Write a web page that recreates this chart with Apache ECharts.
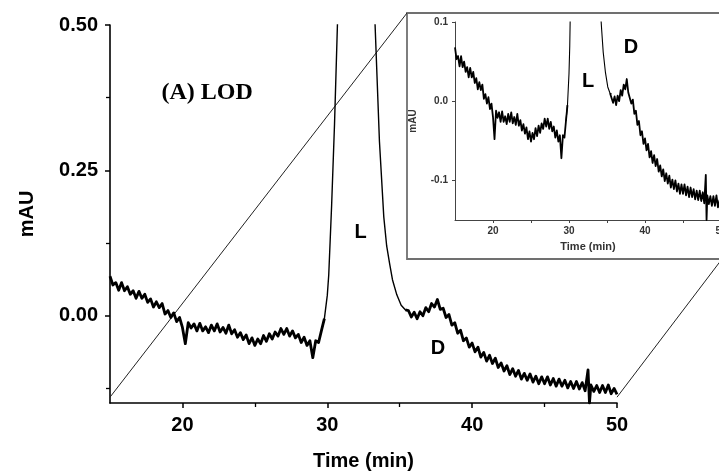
<!DOCTYPE html>
<html><head><meta charset="utf-8">
<script src="https://cdn.jsdelivr.net/npm/echarts@6/dist/echarts.min.js"></script>
<style>html,body{margin:0;padding:0;background:#fff}#c{width:719px;height:474px}</style>
</head><body><div id="c"></div>
<script>
// ---- data (time in min, absorbance in mAU) ----
const timesBefore = [15.0,15.2,15.4,15.6,15.8,16.0,16.2,16.4,16.6,16.8,17.0,17.2,17.4,17.6,17.8,18.0,18.2,18.4,18.6,18.8,19.0,19.2,19.4,19.6,19.8,20.0,20.2,20.4,20.6,20.8,21.0,21.2,21.4,21.6,21.8,22.0,22.2,22.4,22.6,22.8,23.0,23.2,23.4,23.6,23.8,24.0,24.2,24.4,24.6,24.8,25.0,25.2,25.4,25.6,25.8,26.0,26.2,26.4,26.6,26.8,27.0,27.2,27.4,27.6,27.8,28.0,28.2,28.4,28.6,28.8,29.0,29.2,29.4,29.6];
const signalBefore = [0.068,0.053,0.057,0.044,0.057,0.043,0.050,0.037,0.043,0.030,
  0.042,0.030,0.037,0.023,0.029,0.015,0.024,0.014,0.021,0.003,
  0.009,-0.003,0.005,-0.010,-0.003,-0.020,-0.048,-0.012,-0.021,-0.014,
  -0.026,-0.013,-0.026,-0.019,-0.029,-0.016,-0.026,-0.014,-0.028,-0.020,
  -0.030,-0.016,-0.031,-0.024,-0.037,-0.029,-0.041,-0.033,-0.048,-0.038,
  -0.051,-0.040,-0.048,-0.034,-0.044,-0.031,-0.040,-0.028,-0.035,-0.022,
  -0.032,-0.022,-0.035,-0.026,-0.038,-0.032,-0.046,-0.037,-0.051,-0.043,
  -0.072,-0.043,-0.046,-0.025];
const timesPeak = [29.8,30.0,30.1,30.2,30.3,30.5,30.7,31.0,31.5,32.0,32.5,33.0,33.3,33.6,33.9,34.1,34.3,34.5,34.8,35.1,35.4];
const signalPeak = [-0.005,0.035,0.07,0.13,0.19,0.33,0.5,0.75,1.1,1.3,1.2,0.8,0.5,0.3,0.17,0.12,0.09,0.062,0.036,0.018,0.010];
const timesAfter = [35.6,35.8,36.0,36.2,36.4,36.6,36.8,37.0,37.2,37.4,37.6,37.8,38.0,38.2,38.4,38.6,38.8,39.0,39.2,39.4,39.6,39.8,40.0,40.2,40.4,40.6,40.8,41.0,41.2,41.4,41.6,41.8,42.0,42.2,42.4,42.6,42.8,43.0,43.2,43.4,43.6,43.8,44.0,44.2,44.4,44.6,44.8,45.0,45.2,45.4,45.6,45.8,46.0,46.2,46.4,46.6,46.8,47.0,47.2,47.4,47.6,47.8,48.0,48.1,48.2,48.4,48.6,48.8,49.0,49.2,49.4,49.6,49.8,50.0];
const signalAfter = [0.009,-0.002,0.006,-0.005,0.007,0.000,0.014,0.007,0.021,0.015,
  0.028,0.011,0.013,-0.003,0.002,-0.016,-0.012,-0.030,-0.025,-0.043,
  -0.038,-0.054,-0.047,-0.062,-0.054,-0.071,-0.063,-0.078,-0.068,-0.082,
  -0.073,-0.089,-0.081,-0.095,-0.086,-0.101,-0.091,-0.104,-0.094,-0.109,
  -0.099,-0.111,-0.100,-0.114,-0.104,-0.117,-0.105,-0.117,-0.105,-0.119,
  -0.108,-0.121,-0.109,-0.121,-0.111,-0.124,-0.113,-0.125,-0.113,-0.126,
  -0.115,-0.129,
  -0.093,-0.150,-0.119,-0.130,-0.120,-0.132,-0.120,-0.132,-0.119,-0.134,-0.125,-0.135];

// tick labels
const xTicks = [20,30,40,50];
const xMinorTicks = [25,35,45];
const yTicksMain = [0, 0.25, 0.5];
const yMinorMain = [-0.125, 0.125, 0.375];
const yTicksInset = [-0.1, 0, 0.1];

// annotations
const mainNotes = [
  {text:'(A) LOD', at:[21.7, 0.384], font:'bold 24px "Liberation Serif", serif'},
  {text:'L', at:[32.3, 0.143]},
  {text:'D', at:[37.64, -0.056]}
];
const insetNotes = [
  {text:'L', at:[32.5, 0.025]},
  {text:'D', at:[38.16, 0.068]}
];

const pairs = (ts, vs) => ts.map((t,i)=>[t, vs[i]]);
const dBefore = pairs(timesBefore, signalBefore);
const dPeak = pairs(timesPeak, signalPeak);
const dAfter = pairs(timesAfter, signalAfter);
// segments joined at their shared end points
const segNoise1 = dBefore.concat([dPeak[0]]);
const segPeak = [dBefore[dBefore.length-1]].concat(dPeak, [dAfter[0]]);
const segNoise2 = [dPeak[dPeak.length-1]].concat(dAfter);

const SANS = '"Liberation Sans", Arial, sans-serif';
const chart = echarts.init(document.getElementById('c'), null, {renderer:'canvas'});

function xAx(grid, main) {
  return {
    type:'value', gridIndex:grid, min:15, max:50, position:'bottom',
    splitLine:{show:false},
    axisLine:{show:true, onZero:false, lineStyle:{color: main?'#000':'#444', width: main?1.6:1}},
    axisTick:{show:true, customValues:xTicks, length: main?5:3, lineStyle:{color: main?'#000':'#444', width: main?1.5:1}},
    axisLabel:{customValues:xTicks, color: main?'#000':'#333', fontFamily:SANS, fontWeight:'bold', fontSize: main?20:10, margin: main?12:6},
    name:'Time (min)', nameLocation:'middle', nameGap: main?48:21,
    nameTextStyle:{color: main?'#000':'#333', fontFamily:SANS, fontWeight:'bold', fontSize: main?20:11}
  };
}
function xMinor(grid, main) {
  return {
    type:'value', gridIndex:grid, min:15, max:50, position:'bottom',
    splitLine:{show:false}, axisLine:{show:false, onZero:false}, axisLabel:{show:false},
    axisTick:{show:true, customValues:xMinorTicks, length: main?4:3, lineStyle:{color: main?'#000':'#444', width: main?1.3:1}}
  };
}
function seg(data, xi, yi, w) {
  return {type:'line', xAxisIndex:xi, yAxisIndex:yi, data:data, showSymbol:false, symbol:'none',
    clip:true, lineStyle:{color:'#000', width:w, join:'round'}, z:3};
}

const option = {
  animation:false,
  backgroundColor:'#fff',
  grid:[
    {left:110, top:25, width:507, height:378, outerBoundsMode:'none', containLabel:false},
    {left:455, top:22, width:266, height:198, outerBoundsMode:'none', containLabel:false}
  ],
  xAxis:[ xAx(0,true), xMinor(0,true), xAx(1,false), xMinor(1,false) ],
  yAxis:[
    {type:'value', gridIndex:0, min:-0.15, max:0.5, position:'left',
     splitLine:{show:false},
     axisLine:{show:true, onZero:false, lineStyle:{color:'#000', width:1.6}},
     axisTick:{show:true, customValues:yTicksMain, length:5, lineStyle:{color:'#000', width:1.5}},
     axisLabel:{customValues:yTicksMain, formatter:v=>v.toFixed(2), color:'#000', fontFamily:SANS, fontWeight:'bold', fontSize:20, margin:12},
     name:'mAU', nameLocation:'middle', nameGap:73, nameRotate:90,
     nameTextStyle:{color:'#000', fontFamily:SANS, fontWeight:'bold', fontSize:20}},
    {type:'value', gridIndex:0, min:-0.15, max:0.5, position:'left',
     splitLine:{show:false}, axisLine:{show:false, onZero:false}, axisLabel:{show:false},
     axisTick:{show:true, customValues:yMinorMain, length:4, lineStyle:{color:'#000', width:1.3}}},
    {type:'value', gridIndex:1, min:-0.15, max:0.1, position:'left',
     splitLine:{show:false},
     axisLine:{show:true, onZero:false, lineStyle:{color:'#444', width:1}},
     axisTick:{show:true, customValues:yTicksInset, length:3, lineStyle:{color:'#444', width:1}},
     axisLabel:{customValues:yTicksInset, formatter:v=>v.toFixed(1), color:'#333', fontFamily:SANS, fontWeight:'bold', fontSize:10, margin:7},
     name:'mAU', nameLocation:'middle', nameGap:37, nameRotate:90,
     nameTextStyle:{color:'#333', fontFamily:SANS, fontWeight:'bold', fontSize:10}},
    {type:'value', gridIndex:1, min:-0.15, max:0.1, position:'left', show:false}
  ],
  series:[
    seg(segNoise1, 0, 0, 2.8), seg(segPeak, 0, 0, 1.4), seg(segNoise2, 0, 0, 2.8),
    seg(segNoise1, 2, 2, 1.8), seg(segPeak, 2, 2, 1.1), seg(segNoise2, 2, 2, 1.8)
  ]
};
chart.setOption(option);

// decorations positioned from the axes
const toMain = v => chart.convertToPixel({xAxisIndex:0, yAxisIndex:0}, v);
const toInset = v => chart.convertToPixel({xAxisIndex:2, yAxisIndex:2}, v);
const iTL = toInset([15, 0.1]);
const iBR = toInset([50, -0.15]);
const frame = {x:iTL[0]-48, y:iTL[1]-9, x2:iBR[0]+1, y2:iBR[1]+39};
const startL = toMain([15, -0.14]);
const startR = toMain([50, -0.14]);

const elements = [
  {type:'rect', shape:{x:frame.x, y:frame.y, width:frame.x2-frame.x, height:frame.y2-frame.y},
   style:{fill:'none', stroke:'#707070', lineWidth:1.8}, z:1, silent:true},
  {type:'line', shape:{x1:startL[0], y1:startL[1], x2:frame.x, y2:frame.y},
   style:{stroke:'#222', lineWidth:1}, z:1, silent:true},
  {type:'line', shape:{x1:startR[0], y1:startR[1], x2:frame.x2, y2:frame.y2},
   style:{stroke:'#222', lineWidth:1}, z:1, silent:true}
];
function note(n, px, size) {
  return {type:'text', x:px[0], y:px[1], z:10, silent:true,
    style:{text:n.text, font:n.font || ('bold '+size+'px '+SANS), fill:'#000',
      align:'center', verticalAlign:'middle', textAlign:'center', textVerticalAlign:'middle'}};
}
mainNotes.forEach(n => elements.push(note(n, toMain(n.at), 20)));
insetNotes.forEach(n => elements.push(note(n, toInset(n.at), 20)));
chart.setOption({graphic:{elements:elements}});
</script>
</body></html>
